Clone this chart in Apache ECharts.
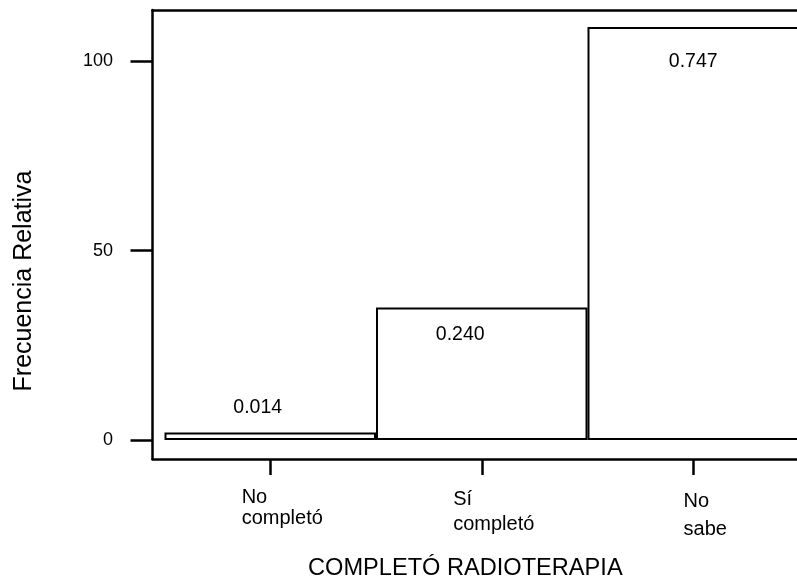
<!DOCTYPE html>
<html>
<head>
<meta charset="utf-8">
<script src="https://cdn.jsdelivr.net/npm/echarts@6/dist/echarts.min.js"></script>
<style>
  html, body { margin: 0; padding: 0; background: #fff; overflow: hidden; }
  #chart { width: 802px; height: 579px; }
</style>
</head>
<body>
<div id="chart"></div>
<script>
// Radiotherapy completion: counts per answer, labelled with relative frequency
const categories = ['No\ncompletó', 'Sí\ncompletó', 'No\nsabe'];
const counts = [2, 35, 109];
const yTicks = [0, 50, 100];
const axisTitle = 'COMPLETÓ RADIOTERAPIA';
const valueTitle = 'Frecuencia Relativa';

// label placement per bar (position, [dx, dy])
const barLabelPlacement = [
  ['insideTop', [-12.5, -34.5]],
  ['insideTop', [-21.5, 17]],
  ['insideTop', [0, 25]]
];
// line height of each category label
const catLineHeights = [21, 25, 28];

const FONT = '"Liberation Sans", Arial, Helvetica, sans-serif';
const total = counts.reduce((a, b) => a + b, 0);
const relFreq = counts.map(c => (c / total).toFixed(3));

const frameLine = { color: '#000', width: 2.5 };

// rich styles keep the lines of a category label flush left
const catRich = {};
catLineHeights.forEach((lh, i) => {
  catRich['c' + i] = { align: 'left', lineHeight: lh, fontSize: 20, fontFamily: FONT, color: '#000' };
});

const chart = echarts.init(document.getElementById('chart'), null, { renderer: 'canvas' });

const option = {
  animation: false,
  backgroundColor: '#fff',
  textStyle: { fontFamily: FONT, color: '#000' },
  title: {
    text: axisTitle,
    left: 308,
    top: 556,
    padding: 0,
    textStyle: { fontFamily: FONT, fontSize: 23.6, fontWeight: 'normal', color: '#000' }
  },
  graphic: [{
    type: 'text',
    x: 24,
    y: 281,
    rotation: Math.PI / 2,
    style: {
      text: valueTitle,
      fontFamily: FONT,
      fontSize: 25,
      fill: '#000',
      align: 'center',
      verticalAlign: 'middle'
    }
  }],
  grid: [
    { left: 152.5, right: 5, top: 10, bottom: 120 },
    { left: 164.5, right: 3, top: 10, bottom: 120 }
  ],
  xAxis: [
    {
      gridIndex: 0, type: 'value', position: 'bottom', min: 0, max: 1,
      axisLine: { show: true, onZero: false, lineStyle: frameLine },
      axisTick: { show: false }, axisLabel: { show: false }, splitLine: { show: false }
    },
    {
      gridIndex: 0, type: 'value', position: 'top', min: 0, max: 1,
      axisLine: { show: true, onZero: false, lineStyle: frameLine },
      axisTick: { show: false }, axisLabel: { show: false }, splitLine: { show: false }
    },
    {
      gridIndex: 1, type: 'category', position: 'bottom',
      data: categories,
      axisLine: { show: false, onZero: false },
      axisTick: { show: true, alignWithLabel: true, length: 16, lineStyle: frameLine },
      axisLabel: {
        interval: 0, margin: 28, fontSize: 20, color: '#000', fontFamily: FONT,
        verticalAlign: 'top',
        padding: [0, 0, 0, 24],
        formatter: (value, index) => value.split('\n').map(s => '{c' + index + '|' + s + '}').join('\n'),
        rich: catRich
      },
      splitLine: { show: false }
    }
  ],
  yAxis: [
    {
      gridIndex: 0, type: 'value', min: -5, max: 113.5,
      axisLine: { show: true, onZero: false, lineStyle: frameLine },
      axisTick: { show: true, length: 22, customValues: yTicks, lineStyle: frameLine },
      axisLabel: { customValues: yTicks, margin: 39.5, fontSize: 18, color: '#000', fontFamily: FONT },
      splitLine: { show: false }
    },
    {
      gridIndex: 1, type: 'value', min: -5, max: 113.5, show: false,
      splitLine: { show: false }
    }
  ],
  series: [{
    type: 'bar',
    xAxisIndex: 2,
    yAxisIndex: 1,
    barCategoryGap: '0%',
    barWidth: '100%',
    data: counts.map((v, i) => ({
      value: v,
      label: {
        show: true,
        position: barLabelPlacement[i][0],
        offset: barLabelPlacement[i][1],
        distance: 0,
        formatter: relFreq[i],
        fontSize: 19.5,
        fontFamily: FONT,
        color: '#000'
      }
    })),
    itemStyle: { color: '#fff', borderColor: '#000', borderWidth: 2 }
  }]
};

chart.setOption(option);
</script>
</body>
</html>
